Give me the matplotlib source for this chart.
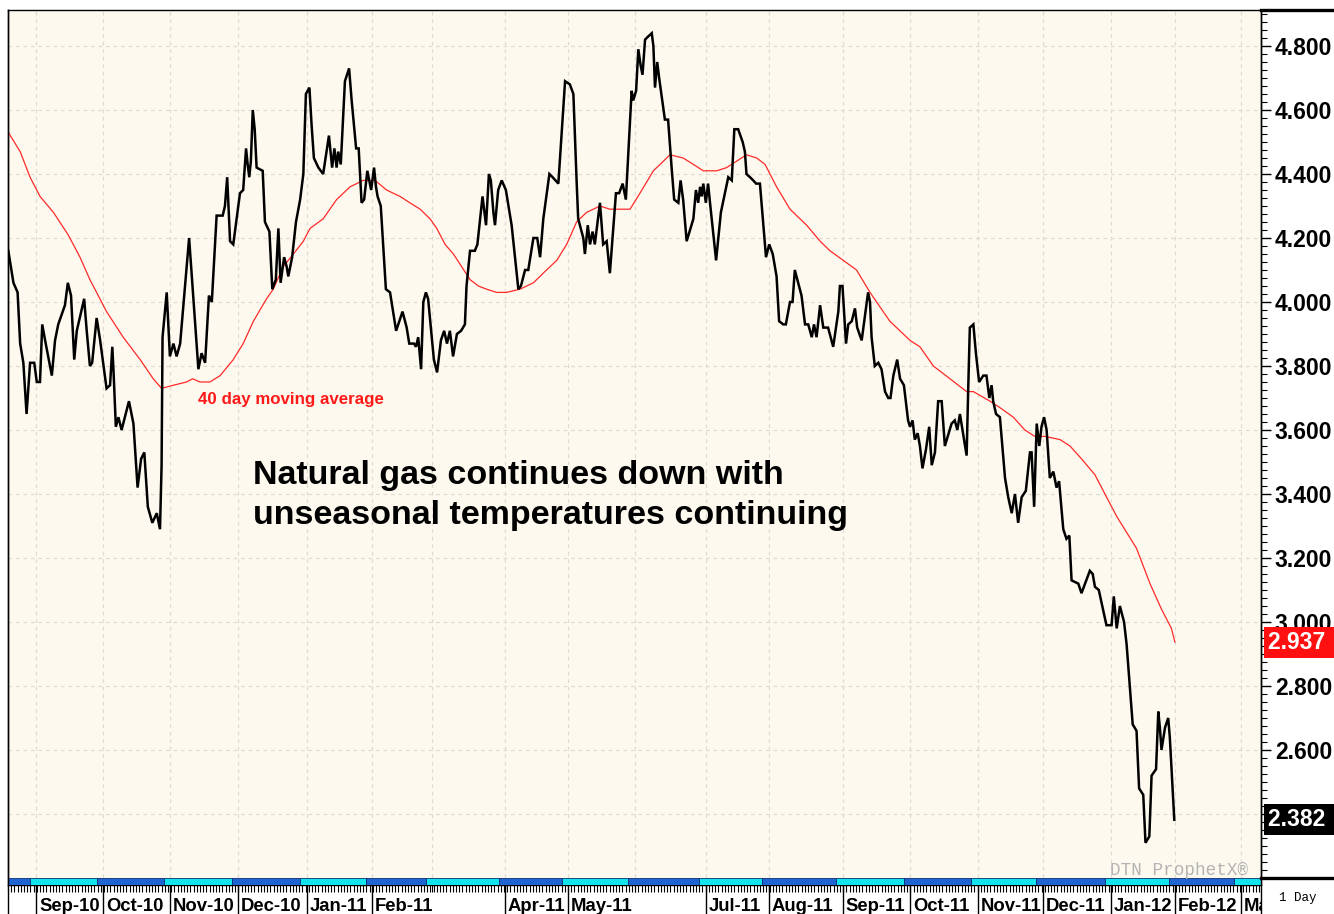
import numpy as np
import matplotlib
matplotlib.use('Agg')
import matplotlib.pyplot as plt
import matplotlib.transforms as mtransforms
from matplotlib.patches import Rectangle
from matplotlib.lines import Line2D
from matplotlib.ticker import FormatStrFormatter, MultipleLocator

# natural gas front month, daily closes; x = trading session from chart start
price_x = [0.1, 1.7, 3.0, 3.8, 4.8, 5.8, 6.9, 8.2, 9.0, 10.0,
           10.7, 11.6, 13.7, 14.7, 15.7, 17.8, 18.7, 19.7, 20.7, 21.5,
           23.8, 24.6, 25.6, 26.3, 27.7, 28.8, 30.8, 31.9, 32.6, 33.0,
           33.7, 34.5, 35.5, 37.8, 39.2, 40.5, 41.6, 42.6, 43.7, 45.1,
           46.5, 47.5, 48.0, 48.3, 49.6, 50.6, 51.7, 52.7, 53.8, 56.6,
           59.5, 60.5, 61.6, 62.8, 63.7, 65.2, 67.1, 67.8, 68.5, 69.4,
           70.4, 72.5, 73.5, 74.4, 74.9, 75.4, 75.9, 76.5, 77.1, 77.7,
           79.6, 80.3, 81.7, 82.6, 83.7, 84.5, 85.2, 86.3, 87.1, 87.6,
           88.8, 90.0, 91.3, 92.3, 93.1, 94.2, 94.9, 95.6, 97.0, 98.5,
           100.3, 101.3, 102.0, 102.7, 103.2, 104.0, 105.3, 106.6, 107.4, 108.8,
           109.6, 110.5, 111.3, 112.3, 112.9, 113.5, 114.4, 115.0, 115.5, 116.5,
           118.1, 119.4, 121.3, 123.3, 124.6, 125.4, 126.9, 127.5, 128.2, 129.1,
           129.8, 130.6, 131.3, 133.1, 134.1, 135.3, 136.3, 137.2, 138.1, 139.1,
           140.3, 141.6, 142.8, 143.3, 144.4, 145.9, 146.7, 148.3, 148.8, 149.4,
           150.3, 150.9, 151.7, 152.2, 153.2, 154.3, 155.6, 157.4, 159.5, 160.3,
           161.6, 162.6, 164.2, 165.4, 166.3, 167.3, 169.2, 170.2, 172.0, 173.0,
           174.1, 175.6, 176.7, 177.7, 178.2, 179.8, 180.3, 181.2, 181.9, 182.7,
           183.4, 185.0, 186.0, 187.1, 188.1, 190.0, 191.0, 192.1, 193.1, 193.8,
           194.9, 195.4, 196.3, 197.0, 197.7, 198.3, 199.1, 200.1, 201.2, 201.7,
           202.2, 202.9, 203.5, 205.3, 206.3, 207.4, 208.2, 209.5, 210.2, 211.0,
           212.1, 214.2, 215.0, 215.7, 216.3, 216.8, 217.3, 218.1, 218.8, 219.4,
           221.3, 222.8, 225.1, 226.2, 227.0, 228.2, 229.6, 230.3, 230.8, 231.9,
           232.9, 233.8, 235.0, 236.9, 237.9, 239.0, 240.2, 241.0, 242.3, 243.1,
           244.4, 245.2, 245.9, 248.0, 249.1, 250.1, 251.2, 251.9, 252.7, 253.8,
           254.8, 256.3, 257.9, 259.5, 260.0, 260.8, 261.9, 262.6, 263.7, 264.7,
           265.4, 266.8, 268.8, 269.4, 269.9, 270.9, 272.0, 273.0, 274.1, 275.1,
           275.8, 276.7, 277.9, 278.8, 280.0, 281.3, 281.9, 282.7, 283.4, 284.3,
           285.0, 285.8, 286.9, 287.9, 288.7, 289.7, 290.7, 291.8, 292.8, 294.9,
           295.9, 296.7, 297.5, 298.3, 299.6, 300.1, 300.6, 301.7, 302.5, 303.5,
           304.8, 305.8, 306.7, 307.4, 307.9, 308.8, 310.0, 311.6, 312.6, 313.7,
           314.7, 315.7, 316.8, 318.1, 319.4, 319.9, 320.7, 321.5, 322.3, 323.0,
           323.8, 324.6, 325.6, 326.7, 327.7, 328.5, 329.8, 330.8, 331.7, 332.4,
           334.5, 335.5, 338.1, 339.0, 339.7, 340.9, 343.3, 344.9, 345.6, 346.5,
           347.5, 348.8, 349.6, 351.5, 352.7, 353.5, 354.8, 355.5, 356.7, 357.4,
           358.8, 359.5, 360.0, 360.5, 361.6, 362.6, 363.1, 364.5]
price_y = [4.16, 4.06, 4.03, 3.87, 3.81, 3.65, 3.81, 3.81, 3.75, 3.75,
           3.93, 3.88, 3.77, 3.88, 3.93, 3.99, 4.06, 4.02, 3.82, 3.91,
           4.01, 3.91, 3.80, 3.81, 3.95, 3.88, 3.73, 3.74, 3.86, 3.78,
           3.61, 3.64, 3.60, 3.69, 3.62, 3.42, 3.51, 3.53, 3.36, 3.31,
           3.34, 3.29, 3.49, 3.89, 4.03, 3.83, 3.87, 3.83, 3.87, 4.20,
           3.79, 3.84, 3.81, 4.02, 4.00, 4.27, 4.27, 4.30, 4.39, 4.19,
           4.18, 4.34, 4.35, 4.48, 4.43, 4.39, 4.44, 4.60, 4.54, 4.42,
           4.41, 4.25, 4.22, 4.04, 4.07, 4.23, 4.06, 4.14, 4.11, 4.08,
           4.14, 4.25, 4.32, 4.40, 4.65, 4.67, 4.55, 4.45, 4.42, 4.40,
           4.52, 4.42, 4.48, 4.42, 4.47, 4.43, 4.69, 4.73, 4.63, 4.48,
           4.48, 4.31, 4.32, 4.41, 4.38, 4.35, 4.42, 4.36, 4.33, 4.30,
           4.04, 4.03, 3.91, 3.97, 3.92, 3.87, 3.87, 3.86, 3.89, 3.79,
           4.00, 4.03, 4.01, 3.82, 3.78, 3.88, 3.91, 3.87, 3.91, 3.83,
           3.90, 3.91, 3.93, 4.05, 4.16, 4.16, 4.18, 4.33, 4.29, 4.24,
           4.40, 4.38, 4.28, 4.24, 4.35, 4.38, 4.35, 4.24, 4.04, 4.05,
           4.10, 4.10, 4.20, 4.20, 4.14, 4.26, 4.40, 4.39, 4.37, 4.52,
           4.69, 4.68, 4.65, 4.38, 4.26, 4.20, 4.15, 4.24, 4.18, 4.22,
           4.18, 4.31, 4.18, 4.19, 4.09, 4.34, 4.34, 4.37, 4.32, 4.45,
           4.66, 4.63, 4.66, 4.79, 4.74, 4.71, 4.82, 4.83, 4.84, 4.80,
           4.67, 4.75, 4.70, 4.57, 4.57, 4.42, 4.32, 4.31, 4.38, 4.32,
           4.19, 4.26, 4.35, 4.31, 4.36, 4.33, 4.37, 4.31, 4.37, 4.31,
           4.13, 4.28, 4.39, 4.38, 4.54, 4.54, 4.50, 4.47, 4.40, 4.39,
           4.38, 4.37, 4.37, 4.14, 4.18, 4.15, 4.08, 3.94, 3.93, 3.93,
           4.00, 4.00, 4.10, 4.02, 3.93, 3.93, 3.89, 3.93, 3.89, 3.99,
           3.92, 3.92, 3.86, 3.97, 4.05, 4.05, 3.87, 3.93, 3.94, 3.98,
           3.92, 3.88, 4.03, 4.00, 3.89, 3.80, 3.81, 3.79, 3.72, 3.70,
           3.70, 3.77, 3.82, 3.76, 3.74, 3.63, 3.61, 3.63, 3.57, 3.59,
           3.55, 3.48, 3.54, 3.61, 3.49, 3.53, 3.69, 3.69, 3.55, 3.62,
           3.63, 3.60, 3.65, 3.60, 3.52, 3.73, 3.92, 3.93, 3.84, 3.75,
           3.77, 3.77, 3.70, 3.74, 3.69, 3.65, 3.64, 3.45, 3.39, 3.34,
           3.40, 3.31, 3.39, 3.41, 3.53, 3.53, 3.36, 3.62, 3.55, 3.61,
           3.64, 3.60, 3.45, 3.47, 3.42, 3.44, 3.29, 3.26, 3.27, 3.13,
           3.12, 3.09, 3.16, 3.15, 3.11, 3.10, 2.99, 2.99, 3.08, 2.98,
           3.05, 3.00, 2.93, 2.68, 2.66, 2.48, 2.46, 2.31, 2.33, 2.52,
           2.54, 2.72, 2.67, 2.60, 2.67, 2.70, 2.64, 2.382]

# 40 day moving average
ma_x = [0.1, 3.8, 6.9, 10.0, 14.2, 18.8, 22.5, 25.6, 30.8, 36.0,
        41.3, 45.4, 48.0, 51.7, 55.8, 57.7, 60.0, 63.1, 66.3, 70.4,
        73.5, 76.7, 80.8, 82.9, 86.0, 89.2, 92.3, 94.4, 98.5, 102.7,
        106.9, 111.0, 114.7, 118.3, 122.5, 125.6, 128.8, 131.9, 134.0, 136.6,
        139.2, 141.8, 144.4, 147.0, 149.6, 152.7, 155.8, 160.0, 164.2, 168.3,
        171.5, 174.6, 177.7, 180.8, 185.0, 188.1, 191.3, 194.4, 197.5, 201.7,
        206.9, 211.0, 214.2, 217.3, 221.5, 224.6, 227.7, 230.8, 234.0, 236.6,
        240.2, 244.4, 249.6, 253.8, 256.9, 265.2, 269.4, 275.6, 281.9, 285.0,
        289.2, 294.4, 299.6, 301.7, 306.9, 310.0, 314.2, 317.8, 320.9, 324.1,
        328.8, 331.9, 335.5, 339.7, 342.3, 346.5, 352.7, 356.9, 360.5, 363.6,
        364.7]
ma_y = [4.53, 4.47, 4.39, 4.33, 4.28, 4.21, 4.14, 4.07, 3.97, 3.89,
        3.82, 3.76, 3.73, 3.74, 3.75, 3.76, 3.75, 3.75, 3.77, 3.82,
        3.87, 3.94, 4.01, 4.04, 4.11, 4.15, 4.19, 4.23, 4.26, 4.32,
        4.36, 4.38, 4.38, 4.35, 4.33, 4.31, 4.29, 4.26, 4.23, 4.18,
        4.15, 4.11, 4.07, 4.05, 4.04, 4.03, 4.03, 4.04, 4.06, 4.10,
        4.13, 4.18, 4.25, 4.28, 4.30, 4.29, 4.29, 4.29, 4.34, 4.41,
        4.46, 4.45, 4.43, 4.41, 4.41, 4.42, 4.44, 4.46, 4.45, 4.43,
        4.36, 4.29, 4.24, 4.19, 4.16, 4.10, 4.03, 3.94, 3.88, 3.86,
        3.80, 3.76, 3.72, 3.72, 3.69, 3.67, 3.64, 3.60, 3.58, 3.58,
        3.57, 3.55, 3.51, 3.46, 3.41, 3.33, 3.23, 3.12, 3.04, 2.98,
        2.937]

# first session of each month, and the labels the chart prints ('' = skipped)
month_pos = [8.8, 29.7, 50.6, 71.9, 93.4, 113.8, 132.5, 155.3, 175.0, 195.9,
             218.1, 237.8, 260.9, 281.9, 303.1, 323.4, 344.7, 364.7, 385.3]
month_lbl = ['Sep-10', 'Oct-10', 'Nov-10', 'Dec-10', 'Jan-11', 'Feb-11', '',
             'Apr-11', 'May-11', '', 'Jul-11', 'Aug-11', 'Sep-11', 'Oct-11',
             'Nov-11', 'Dec-11', 'Jan-12', 'Feb-12', 'Mar-12']

last_price = 2.382
last_ma = 2.937

W, H = 1334, 914
BG = '#fdf9ee'
FONT = 'Liberation Sans'

fig = plt.figure(figsize=(W / 100, H / 100), dpi=100)
fig.patch.set_facecolor('white')

# plot area in pixels: x 8..1261, y 10..885
ax = fig.add_axes([8 / W, (H - 885) / H, (1261 - 8) / W, (885 - 10) / H])
ax.set_facecolor(BG)
ax.set_xlim(0, 391.6)
ax.set_ylim(2.1781, 4.9125)

ax.plot(ma_x, ma_y, color='#ff2a2a', lw=0.9, zorder=3)
ax.plot(price_x, price_y, color='black', lw=1.8, zorder=4,
        solid_joinstyle='miter')

# grid
ax.set_yticks(np.arange(2.4, 4.81, 0.2))
ax.yaxis.set_minor_locator(MultipleLocator(0.025))
ax.set_xticks(month_pos)
ax.set_xticklabels(month_lbl)
ax.xaxis.set_minor_locator(MultipleLocator(1))
ax.grid(which='major', color='#dedbd2', lw=0.9, linestyle=(0, (3, 3)))
ax.set_axisbelow(True)

# month colour strip along the bottom of the plot
xt = ax.get_xaxis_transform()
edges = [0] + [p - 2 for p in month_pos] + [391.6]
for i in range(len(edges) - 1):
    c = '#1e64d2' if i % 2 == 0 else '#12e4ee'
    ax.add_patch(Rectangle((edges[i], 0), edges[i + 1] - edges[i], 0.008,
                           transform=xt, facecolor=c, edgecolor='#0b2f73',
                           lw=0.6, zorder=5, clip_on=True))

# x axis ruler
ax.tick_params(axis='x', which='both', direction='out', length=5, width=0.8,
               color='black')
ax.tick_params(axis='x', which='major', pad=4.5, labelsize=13.3)
off = mtransforms.ScaledTranslation(3 / 100, 0, fig.dpi_scale_trans)
# labels stop at the right edge of the plot (the last one shows only "M")
label_clip = mtransforms.TransformedBbox(
    mtransforms.Bbox([[0, 0], [1261, H]]), mtransforms.IdentityTransform())
for lab in ax.get_xticklabels():
    lab.set_ha('left')
    lab.set_fontweight('bold')
    lab.set_fontfamily(FONT)
    lab.set_transform(lab.get_transform() + off)
    lab.set_clip_box(label_clip)
    lab.set_clip_on(True)
for p, l in zip(month_pos, month_lbl):
    if l:
        ax.vlines(p, -0.05, 0, transform=xt, color='black', lw=1,
                  clip_on=False)

# right price scale
ax.yaxis.tick_right()
ax.yaxis.set_major_formatter(FormatStrFormatter('%.3f'))
ax.tick_params(axis='y', which='major', direction='out', length=7, width=1,
               pad=3, labelsize=16.5)
ax.tick_params(axis='y', which='minor', direction='out', length=4, width=0.8)
for lab in ax.get_yticklabels():
    lab.set_fontweight('bold')
    lab.set_fontfamily(FONT)

for s in ax.spines.values():
    s.set_color('black')
    s.set_linewidth(1)

# last value flags
flag = ax.get_yaxis_transform() + mtransforms.ScaledTranslation(
    7 / 100, 0, fig.dpi_scale_trans)
for val, col in [(last_ma, '#ff1010'), (last_price, 'black')]:
    ax.text(1.0, val, f'{val:.3f}      ', transform=flag, ha='left',
            va='center', color='white', fontsize=16.5, fontweight='bold',
            family=FONT, clip_on=False, zorder=10,
            bbox=dict(boxstyle='square,pad=0.18', fc=col, ec='none'))

# annotations
ax.text(59.4, 3.694, '40 day moving average', color='#ff1a1a', fontsize=12.2,
        fontweight='bold', family=FONT, va='center', ha='left')
ax.text(76.6, 3.459, 'Natural gas continues down with', color='black',
        fontsize=24.5, fontweight='bold', family=FONT, va='center',
        ha='left')
ax.text(76.6, 3.334, 'unseasonal temperatures continuing', color='black',
        fontsize=24.5, fontweight='bold', family=FONT, va='center',
        ha='left')
ax.text(387.5, 2.222, 'DTN ProphetX\u00ae', color='#b4b4b4', fontsize=12.7,
        family='Liberation Mono', va='center', ha='right', zorder=6)

# frame pieces outside the plot
fig.patches.append(Rectangle((1262 / W, 0), (W - 1262) / W, (H - 886) / H,
                             transform=fig.transFigure, facecolor='white',
                             edgecolor='none', zorder=5))
for xs, ys, lw in [([8 / W, 8 / W], [0, 1 - 10 / H], 1.0),
                   ([1261 / W, 1261 / W], [0, 1 - 10 / H], 1.0),
                   ([1261 / W, 1], [1 - 10 / H, 1 - 10 / H], 2.4),
                   ([1261 / W, 1], [1 - 878 / H, 1 - 878 / H], 2.4)]:
    fig.add_artist(Line2D(xs, ys, color='black', lw=lw, zorder=6,
                          transform=fig.transFigure))
fig.text(1298 / W, 1 - 898 / H, '1 Day', fontsize=9, family='Liberation Mono',
         ha='center', va='center', zorder=7)

fig.savefig('out.png', dpi=100, facecolor='white')
